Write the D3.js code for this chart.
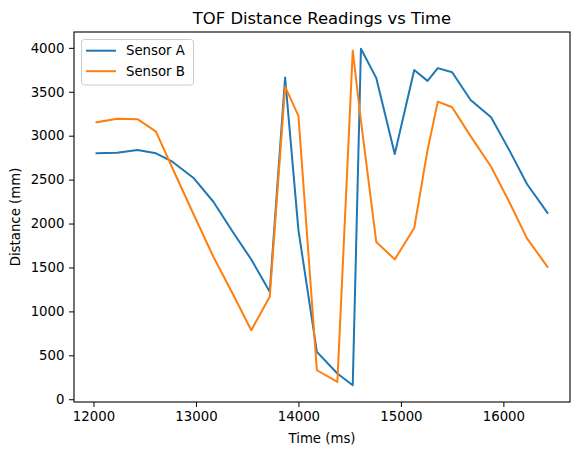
<!DOCTYPE html>
<html>
<head>
<meta charset="utf-8">
<script src="https://cdn.jsdelivr.net/npm/d3@7"></script>
<style>
  html, body { margin: 0; padding: 0; background: #fff; }
  svg { display: block; font-family: "DejaVu Sans", sans-serif; }
</style>
</head>
<body>
<svg id="chart" width="580" height="455"></svg>
<script>
// Data
const times = [12030, 12230, 12430, 12610, 12770, 12980, 13170, 13360, 13540, 13720,
               13870, 14000, 14180, 14380, 14530, 14610, 14760, 14940, 15130, 15260,
               15360, 15500, 15680, 15880, 16060, 16230, 16430];
const sensorA = [2800, 2807, 2838, 2800, 2704, 2515, 2248, 1904, 1590, 1223,
                 3662, 1926, 539, 293, 160, 3989, 3655, 2792, 3749, 3624,
                 3769, 3723, 3407, 3210, 2830, 2450, 2123];
const sensorB = [3153, 3194, 3188, 3046, 2632, 2097, 1622, 1197, 786, 1166,
                 3559, 3225, 330, 197, 3969, 3169, 1789, 1592, 1949, 2838,
                 3388, 3324, 2995, 2647, 2239, 1831, 1508];
const seriesNames = ["Sensor A", "Sensor B"];
const seriesColors = ["#1f77b4", "#ff7f0e"];
const xTicks = [12000, 13000, 14000, 15000, 16000];
const yTicks = [0, 500, 1000, 1500, 2000, 2500, 3000, 3500, 4000];

const svg = d3.select("#chart");
const mL = 74, mR = 570, mT = 32, mB = 402;

function padded(ext) {
  const s = ext[1] - ext[0];
  return [ext[0] - s * 0.05, ext[1] + s * 0.05];
}
const allY = sensorA.concat(sensorB);
const x = d3.scaleLinear().domain(padded(d3.extent(times))).range([mL, mR]);
const y = d3.scaleLinear().domain(padded(d3.extent(allY))).range([mB, mT]);

// Axes
const xAxis = d3.axisBottom(x).tickValues(xTicks).tickSize(5).tickPadding(4.5).tickFormat(d3.format("d"));
const yAxis = d3.axisLeft(y).tickValues(yTicks).tickSize(5).tickPadding(4.5).tickFormat(d3.format("d"));

const gx = svg.append("g").attr("transform", `translate(0,${mB})`).call(xAxis);
const gy = svg.append("g").attr("transform", `translate(${mL},0)`).call(yAxis);
[gx, gy].forEach(g => {
  g.select(".domain").remove();
  g.selectAll(".tick line").attr("stroke", "#000").attr("stroke-width", 1);
  g.selectAll(".tick text").attr("fill", "#000").style("font-size", "13.3px").style("font-family", "DejaVu Sans");
});

// Lines
const data = [sensorA, sensorB];
data.forEach((vals, i) => {
  const line = d3.line().x((d, j) => x(times[j])).y(d => y(d));
  svg.append("path")
    .datum(vals)
    .attr("fill", "none")
    .attr("stroke", seriesColors[i])
    .attr("stroke-width", 2)
    .attr("stroke-linejoin", "round")
    .attr("stroke-linecap", "square")
    .attr("d", line);
});

// Frame
svg.append("rect")
  .attr("x", mL).attr("y", mT)
  .attr("width", mR - mL).attr("height", mB - mT)
  .attr("fill", "none").attr("stroke", "#000").attr("stroke-width", 1.1);

// Title and labels
svg.append("text")
  .attr("x", (mL + mR) / 2).attr("y", 23.5)
  .attr("text-anchor", "middle")
  .style("font-size", "16.4px")
  .text("TOF Distance Readings vs Time");
svg.append("text")
  .attr("x", (mL + mR) / 2).attr("y", 443)
  .attr("text-anchor", "middle")
  .style("font-size", "13.3px")
  .text("Time (ms)");
svg.append("text")
  .attr("transform", `translate(19.5,${(mT + mB) / 2}) rotate(-90)`)
  .attr("text-anchor", "middle")
  .style("font-size", "13.3px")
  .text("Distance (mm)");

// Legend
const lg = svg.append("g");
lg.append("rect")
  .attr("x", 81.5).attr("y", 39.5).attr("width", 112).attr("height", 45.5)
  .attr("rx", 3).attr("fill", "#fff").attr("fill-opacity", 0.8)
  .attr("stroke", "#ccc").attr("stroke-width", 1);
seriesNames.forEach((name, i) => {
  const yy = 50.7 + i * 20.5;
  lg.append("line").attr("x1", 86).attr("x2", 116).attr("y1", yy).attr("y2", yy)
    .attr("stroke", seriesColors[i]).attr("stroke-width", 2);
  lg.append("text").attr("x", 126).attr("y", yy + 4.7)
    .style("font-size", "13.3px").text(name);
});
</script>
</body>
</html>
